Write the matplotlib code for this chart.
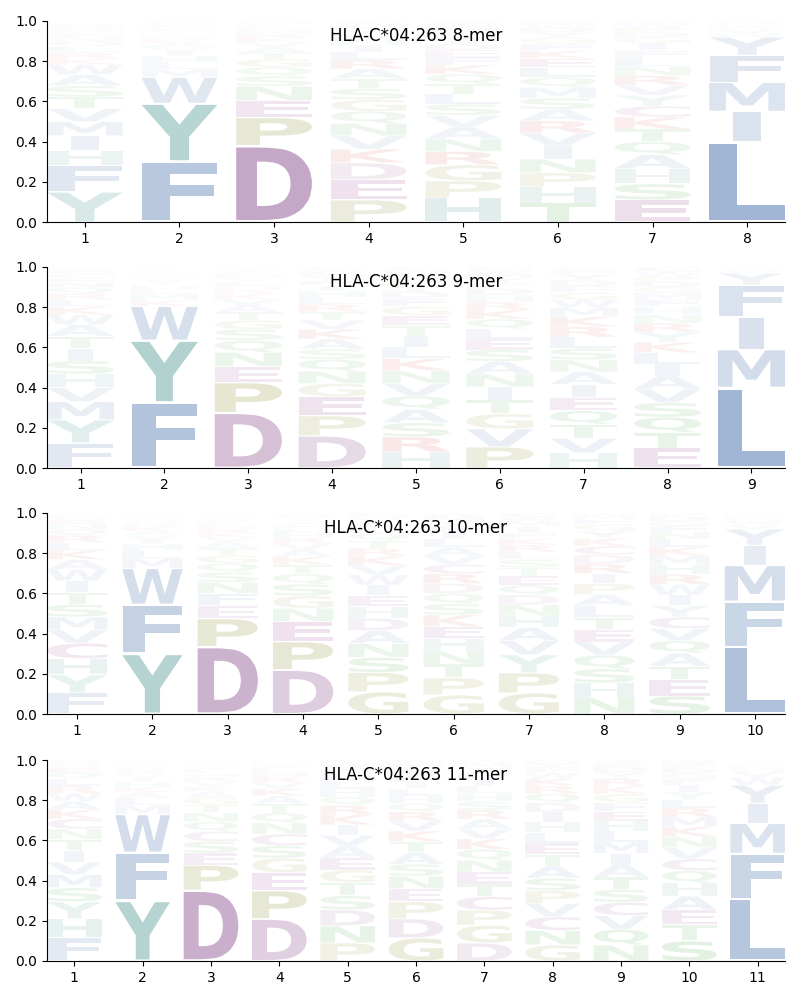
import matplotlib
matplotlib.use('Agg')
import matplotlib.pyplot as plt
from matplotlib.textpath import TextPath
from matplotlib.font_manager import FontProperties
from matplotlib.patches import PathPatch
from matplotlib.transforms import Affine2D

allele = 'HLA-C*04:263'

# letter probabilities per position
mer8 = [
    dict(Y=.15, F=.13, H=.075, I=.074, M=.07, V=.065, T=.058, S=.056, A=.055, W=.05,
         K=.03, R=.03, L=.03, Q=.025, N=.02, E=.02, C=.015, G=.015, P=.01, D=.012),
    dict(F=.30, Y=.29, W=.13, M=.04, L=.035, H=.03, I=.025, V=.02, A=.02, K=.015,
         R=.015, Q=.01, S=.01, T=.01, C=.01, N=.01, E=.01, G=.01, P=.005, D=.005),
    dict(D=.38, P=.14, E=.085, N=.07, S=.05, Q=.045, G=.04, T=.03, A=.03, V=.025,
         K=.02, R=.02, H=.015, L=.015, Y=.01, F=.01, M=.01, W=.005),
    dict(P=.11, E=.10, D=.085, K=.068, V=.066, N=.062, Q=.06, G=.058, S=.055, T=.05,
         A=.048, R=.045, L=.04, I=.035, H=.03, F=.025, Y=.02, M=.02, W=.013, C=.01),
    dict(H=.12, P=.085, G=.08, R=.066, N=.062, A=.06, V=.058, S=.055, L=.052, T=.05,
         Q=.048, K=.045, F=.04, E=.035, D=.03, I=.03, Y=.025, M=.025, W=.018, C=.016),
    dict(T=.095, H=.08, P=.07, N=.068, I=.066, V=.064, R=.06, A=.058, S=.055, M=.054,
         Q=.05, L=.048, E=.045, K=.04, F=.035, G=.03, Y=.025, D=.025, W=.02, C=.012),
    dict(E=.11, S=.08, H=.075, A=.07, Q=.065, T=.062, K=.06, C=.055, Y=.054, V=.05,
         R=.048, N=.045, L=.042, F=.038, I=.035, G=.03, D=.025, P=.022, W=.018, M=.016),
    dict(L=.40, I=.15, M=.145, F=.135, Y=.09, W=.02, V=.02, K=.01, R=.01, H=.01, A=.01),
]

mer9 = [
    dict(F=.125, Y=.115, M=.09, V=.07, H=.068, S=.065, I=.062, T=.06, A=.058, W=.05,
         K=.04, L=.035, R=.03, Q=.03, N=.025, E=.02, C=.02, G=.015, D=.012, P=.01),
    dict(F=.325, Y=.31, W=.17, K=.03, M=.03, L=.025, H=.02, I=.015, V=.015, A=.01,
         R=.01, Q=.01, S=.01, T=.005, C=.005),
    dict(D=.275, P=.15, E=.08, N=.07, Q=.06, S=.055, G=.045, T=.04, A=.035, V=.03,
         K=.025, R=.02, H=.02, L=.02, Y=.015, F=.015, M=.015, I=.01, W=.01, C=.01),
    dict(D=.16, P=.10, E=.095, G=.065, N=.062, Q=.058, S=.052, A=.05, K=.048, V=.045,
         T=.042, R=.038, L=.035, H=.03, I=.028, F=.025, Y=.02, M=.018, W=.015, C=.014),
    dict(H=.08, R=.075, S=.07, A=.068, Q=.065, V=.064, N=.062, K=.06, L=.058, I=.055,
         T=.052, E=.05, G=.045, F=.04, D=.035, Y=.03, P=.028, M=.025, W=.02, C=.018),
    dict(P=.105, V=.09, G=.075, T=.068, I=.066, N=.064, A=.062, S=.058, E=.055, L=.05,
         Q=.048, K=.045, R=.04, H=.035, D=.032, F=.028, Y=.025, M=.022, W=.018, C=.014),
    dict(H=.075, V=.073, T=.07, Q=.068, E=.066, I=.064, A=.062, N=.06, S=.058, L=.055,
         R=.052, K=.05, M=.045, W=.04, G=.035, F=.032, D=.03, Y=.028, P=.02, C=.017),
    dict(E=.10, T=.078, Q=.075, S=.072, V=.068, A=.065, I=.06, L=.056, K=.052, Y=.05,
         R=.045, N=.042, H=.04, F=.035, M=.032, G=.03, D=.028, P=.025, W=.025, C=.022),
    dict(L=.40, M=.19, I=.162, F=.158, Y=.06, V=.01, W=.01, H=.005, K=.005),
]

mer10 = [
    dict(F=.105, Y=.09, H=.08, C=.078, V=.066, M=.064, S=.062, T=.06, I=.058, W=.056,
         A=.05, K=.045, L=.04, R=.035, Q=.03, N=.025, E=.02, G=.015, D=.011, P=.01),
    dict(Y=.30, F=.245, W=.18, M=.05, L=.04, H=.03, I=.025, V=.02, A=.02, K=.02,
         R=.015, Q=.015, S=.01, T=.01, C=.01, N=.01),
    dict(D=.335, P=.14, E=.065, F=.06, N=.055, S=.05, Q=.045, G=.04, T=.035, A=.03,
         V=.025, K=.02, R=.02, H=.015, L=.015, Y=.015, M=.01, I=.01, W=.01, C=.005),
    dict(D=.22, P=.14, E=.10, N=.066, G=.062, S=.058, Q=.052, T=.045, K=.04, A=.035,
         V=.03, R=.028, H=.025, L=.022, F=.02, Y=.015, I=.012, M=.012, W=.01, C=.008),
    dict(G=.11, P=.097, S=.075, N=.068, A=.065, D=.062, H=.058, E=.055, I=.052, W=.05,
         V=.048, K=.045, R=.04, T=.038, Q=.035, L=.03, F=.025, Y=.02, M=.015, C=.012),
    dict(G=.095, P=.085, T=.068, N=.065, H=.062, E=.06, K=.058, S=.055, Q=.052, D=.05,
         R=.048, C=.046, V=.044, A=.042, L=.04, I=.035, F=.03, Y=.025, M=.022, W=.018),
    dict(G=.105, P=.10, Y=.09, V=.07, A=.065, H=.058, N=.055, D=.05, Q=.048, E=.045,
         T=.042, S=.04, L=.038, R=.035, K=.032, F=.03, I=.03, M=.025, W=.022, C=.02),
    dict(N=.08, H=.075, S=.07, Q=.068, V=.066, E=.062, T=.06, L=.058, A=.056, P=.054,
         I=.05, R=.048, D=.046, C=.042, K=.04, Y=.036, G=.032, F=.025, M=.018, W=.014),
    dict(S=.09, E=.08, T=.068, A=.065, Q=.062, V=.06, C=.058, Y=.056, I=.054, W=.052,
         R=.05, H=.048, M=.045, K=.042, L=.04, N=.035, F=.03, G=.025, D=.022, P=.018),
    dict(L=.335, F=.225, M=.18, I=.10, Y=.08, V=.02, W=.02, H=.01, K=.01, R=.01, A=.01),
]

mer11 = [
    dict(F=.115, H=.095, Y=.085, S=.07, M=.065, V=.062, I=.058, T=.055, N=.052, C=.05,
         K=.045, A=.042, W=.04, R=.038, L=.035, Q=.03, E=.025, G=.015, D=.012, P=.011),
    dict(Y=.30, F=.24, W=.19, M=.045, L=.035, A=.03, K=.025, H=.025, I=.02, V=.02,
         R=.015, Q=.015, S=.01, T=.01, C=.01, N=.01),
    dict(D=.352, P=.125, E=.06, S=.058, C=.05, Q=.048, N=.045, T=.04, G=.035, A=.03,
         K=.025, V=.025, R=.02, H=.02, L=.018, F=.015, Y=.012, M=.01, I=.007, W=.005),
    dict(D=.21, P=.14, E=.09, G=.072, S=.062, C=.058, N=.055, Q=.05, T=.045, A=.04,
         K=.035, V=.03, R=.028, H=.022, L=.018, F=.013, Y=.012, M=.01, I=.005, W=.005),
    dict(P=.09, N=.085, D=.08, S=.07, T=.066, G=.062, E=.06, A=.058, V=.055, I=.052,
         K=.05, R=.046, Q=.043, H=.04, L=.035, M=.03, F=.027, Y=.022, W=.016, C=.013),
    dict(G=.115, D=.095, P=.085, E=.065, N=.062, S=.06, A=.058, T=.055, K=.052, V=.05,
         R=.045, Q=.042, H=.038, L=.036, I=.032, F=.028, Y=.024, C=.022, M=.02, W=.016),
    dict(D=.09, G=.088, P=.075, C=.068, T=.062, E=.06, N=.058, Q=.055, K=.052, V=.05,
         A=.048, R=.045, S=.042, H=.04, L=.038, I=.035, F=.03, Y=.026, M=.02, W=.018),
    dict(G=.08, N=.072, C=.068, V=.066, P=.064, S=.062, A=.06, T=.058, E=.056, L=.054,
         H=.052, I=.05, D=.046, Q=.044, R=.04, K=.036, W=.03, F=.026, Y=.02, M=.016),
    dict(N=.08, Q=.078, V=.068, C=.066, S=.064, T=.062, A=.06, I=.058, M=.056, L=.054,
         H=.05, E=.048, F=.045, G=.042, K=.04, R=.036, Y=.032, D=.026, P=.02, W=.015),
    dict(S=.10, T=.08, E=.075, A=.068, H=.065, Q=.062, C=.058, V=.056, N=.054, K=.05,
         M=.048, R=.045, L=.042, Y=.038, I=.035, F=.03, G=.028, D=.025, P=.022, W=.019),
    dict(L=.31, F=.225, M=.15, I=.10, Y=.09, W=.04, V=.03, H=.015, K=.01, R=.01, A=.01, T=.01),
]

logos = [(8, mer8), (9, mer9), (10, mer10), (11, mer11)]

blue = '#a0b6d4'
teal = '#9cc6c2'
purple = '#c2a4c4'
pink = '#c08cbc'
olive = '#bdbd87'
red = '#e68a8a'
green = '#8fc98f'
colors = {
    'A': blue, 'F': blue, 'I': blue, 'L': blue, 'M': blue, 'V': blue, 'W': blue,
    'Y': teal, 'H': teal,
    'D': purple, 'E': pink, 'C': pink,
    'P': olive, 'G': olive,
    'K': red, 'R': red,
    'N': green, 'Q': green, 'S': green, 'T': green,
}

fp = FontProperties(family='DejaVu Sans', weight='bold')
cache = {}


def glyph(c):
    if c not in cache:
        p = TextPath((0, 0), c, size=1, prop=fp)
        cache[c] = (p, p.get_extents())
    return cache[c]


def draw_letter(ax, c, x, floor, h, color, width=0.8, vpad=0.05):
    path, bb = glyph(c)
    bbE = glyph('E')[1]
    sx = min(width / bb.width, width / bbE.width)
    sy = h * (1 - vpad) / bb.height
    tr = (Affine2D().translate(-bb.x0, -bb.y0).scale(sx, sy)
          .translate(x - bb.width * sx / 2, floor + h * vpad / 2))
    alpha = min(1.0, h / 0.4)
    ax.add_patch(PathPatch(tr.transform_path(path), facecolor=color,
                           edgecolor='none', alpha=alpha))


fig = plt.figure(figsize=(8, 10), dpi=100)
bottoms = [0.778, 0.532, 0.286, 0.039]

for (n, cols), b in zip(logos, bottoms):
    ax = fig.add_axes([0.05875, b, 0.9225, 0.201])
    for i, col in enumerate(cols):
        floor = 0.0
        for c, h in sorted(col.items(), key=lambda kv: -kv[1]):
            color = colors[c]
            # the C-terminal anchor column is drawn all in blue
            if i == n - 1 and c == 'Y':
                color = blue
            draw_letter(ax, c, i + 1, floor, h, color)
            floor += h
    ax.set_xlim(0.6, n + 0.4)
    ax.set_ylim(0, 1)
    ax.set_xticks(range(1, n + 1))
    ax.set_yticks([0, 0.2, 0.4, 0.6, 0.8, 1.0])
    ax.spines['top'].set_visible(False)
    ax.spines['right'].set_visible(False)
    ax.text(0.5, 0.925, f'{allele} {n}-mer', transform=ax.transAxes,
            ha='center', va='center', fontsize=12)

fig.savefig('out.png', dpi=100)
